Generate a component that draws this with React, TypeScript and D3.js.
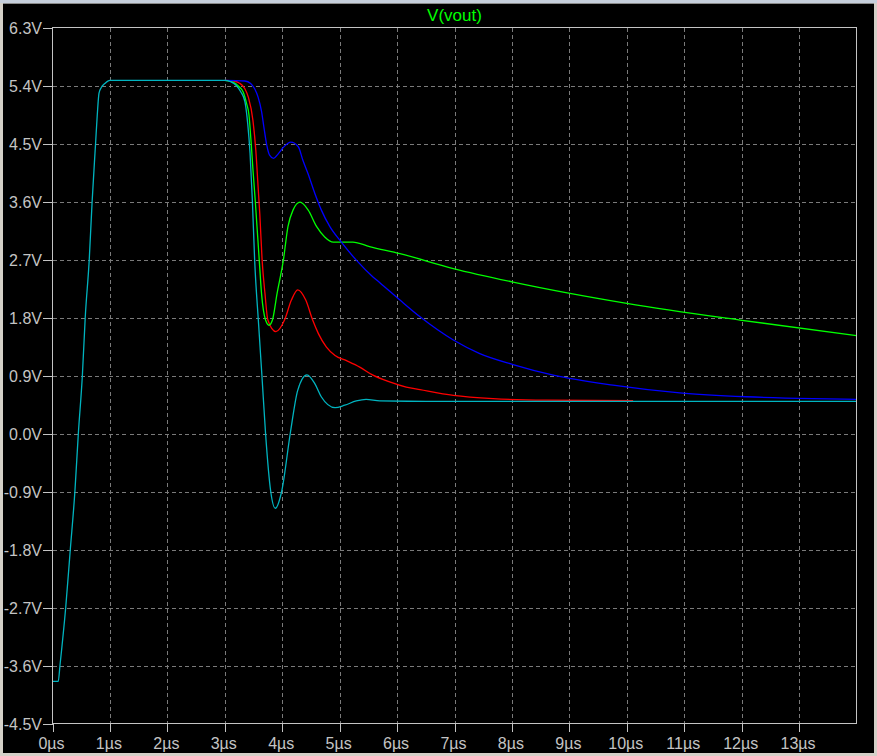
import React from "react";
import * as d3 from "d3";

// ---- data (time in µs, voltage in V) ----
const X_TICKS = [0, 1, 2, 3, 4, 5, 6, 7, 8, 9, 10, 11, 12, 13];
const X_LABELS = ["0µs", "1µs", "2µs", "3µs", "4µs", "5µs", "6µs", "7µs", "8µs", "9µs", "10µs", "11µs", "12µs", "13µs"];
const Y_TICKS = [6.3, 5.4, 4.5, 3.6, 2.7, 1.8, 0.9, 0.0, -0.9, -1.8, -2.7, -3.6, -4.5];
const Y_LABELS = ["6.3V", "5.4V", "4.5V", "3.6V", "2.7V", "1.8V", "0.9V", "0.0V", "-0.9V", "-1.8V", "-2.7V", "-3.6V", "-4.5V"];
const TITLE = "V(vout)";

const T_CYAN = [0, 0.1, 0.13, 0.23, 0.31, 0.39, 0.45, 0.52, 0.57, 0.64, 0.69, 0.75, 0.78, 0.81, 0.85, 0.91, 1.0, 2.0, 3.0, 3.1, 3.2, 3.28, 3.35, 3.4, 3.44, 3.48, 3.52, 3.59, 3.65, 3.71, 3.8, 3.88, 3.99, 4.14, 4.27, 4.43, 4.57, 4.68, 4.92, 5.09, 5.29, 5.46, 5.7, 6.5, 14];
const V_CYAN = [-3.845, -3.845, -3.6, -2.7, -1.8, -0.9, 0, 0.9, 1.8, 2.7, 3.6, 4.5, 4.95, 5.28, 5.37, 5.43, 5.48, 5.48, 5.48, 5.46, 5.4, 5.3, 5.15, 4.8, 4.35, 3.62, 2.69, 1.68, 0.85, 0, -0.9, -1.16, -0.9, 0, 0.67, 0.91, 0.77, 0.57, 0.4, 0.44, 0.505, 0.53, 0.505, 0.5, 0.5];

const T_RED = [3.0, 3.15, 3.25, 3.35, 3.41, 3.49, 3.54, 3.58, 3.61, 3.65, 3.7, 3.75, 3.89, 4.04, 4.16, 4.27, 4.41, 4.53, 4.63, 4.77, 4.92, 5.12, 5.35, 5.58, 5.87, 6.16, 6.4, 6.98, 7.67, 8.6, 10.11];
const V_RED = [5.48, 5.47, 5.44, 5.35, 5.22, 4.86, 4.4, 3.83, 3.4, 2.69, 2.17, 1.76, 1.58, 1.76, 2.07, 2.23, 2.07, 1.76, 1.55, 1.34, 1.21, 1.13, 1.03, 0.905, 0.8, 0.72, 0.68, 0.59, 0.54, 0.517, 0.51];

const T_GREEN = [3.0, 3.15, 3.25, 3.32, 3.38, 3.42, 3.46, 3.49, 3.53, 3.6, 3.64, 3.71, 3.77, 3.83, 3.91, 4.02, 4.1, 4.19, 4.31, 4.45, 4.6, 4.74, 4.89, 5.05, 5.23, 5.52, 6.05, 6.98, 8.02, 10.0, 11.97, 14];
const V_GREEN = [5.48, 5.45, 5.38, 5.3, 5.12, 4.95, 4.5, 4.1, 3.62, 2.69, 2.17, 1.76, 1.68, 1.76, 2.17, 2.69, 3.21, 3.47, 3.59, 3.47, 3.21, 3.05, 2.97, 2.97, 2.97, 2.9, 2.79, 2.56, 2.35, 2.02, 1.76, 1.52];

const T_BLUE = [3.0, 3.35, 3.45, 3.52, 3.58, 3.64, 3.68, 3.73, 3.78, 3.85, 3.93, 4.02, 4.15, 4.28, 4.36, 4.45, 4.57, 4.68, 4.83, 5.03, 5.29, 5.58, 5.7, 6.05, 6.4, 6.98, 7.44, 8.02, 8.72, 9.76, 10.92, 12.08, 13.24, 14];
const V_BLUE = [5.48, 5.47, 5.43, 5.35, 5.22, 5.0, 4.76, 4.48, 4.32, 4.27, 4.34, 4.44, 4.52, 4.45, 4.24, 4.03, 3.72, 3.47, 3.21, 2.97, 2.69, 2.43, 2.34, 2.07, 1.81, 1.45, 1.24, 1.07, 0.905, 0.75, 0.63, 0.57, 0.54, 0.53];

const SERIES = [
  { name: "red", t: T_RED, v: V_RED, color: "#ff0000" },
  { name: "green", t: T_GREEN, v: V_GREEN, color: "#00ff00" },
  { name: "blue", t: T_BLUE, v: V_BLUE, color: "#0000ff" },
  { name: "cyan", t: T_CYAN, v: V_CYAN, color: "#00b4c0" },
];

const W = 877;
const H = 756;
const PL = 52.5, PR = 856.5, PT = 27.5, PB = 723.5;
const FONT = "'Liberation Sans', Arial, sans-serif";
const AXIS = "#c4c4c4";

export default function App() {
  const x = d3.scaleLinear().domain([0, 14]).range([PL, PR]);
  const y = d3.scaleLinear().domain([-4.5, 6.3]).range([PB, PT]);
  const line = d3
    .line<[number, number]>()
    .x((d) => x(d[0]))
    .y((d) => y(d[1]))
    .curve(d3.curveMonotoneX);

  return (
    <svg
      width={W}
      height={H}
      style={{ position: "absolute", left: 0, top: 0, display: "block" }}
    >
      <rect x={0} y={0} width={W} height={H} fill="#d4d0c8" />
      <rect x={0} y={0} width={W} height={3} fill="#c6cfdc" />
      <rect x={3} y={3} width={W - 6} height={1} fill="#8a8a8a" />
      <rect x={3} y={4} width={W - 6} height={H - 7} fill="#000000" />

      {/* grid */}
      {X_TICKS.filter((t) => t > 0).map((t) => (
        <line
          key={"gx" + t}
          x1={Math.round(x(t)) + 0.5}
          x2={Math.round(x(t)) + 0.5}
          y1={PT}
          y2={PB}
          stroke="#7a7a7a"
          strokeDasharray="4,3"
          shapeRendering="crispEdges"
        />
      ))}
      {Y_TICKS.filter((v) => v < 6.3 && v > -4.5).map((v) => (
        <line
          key={"gy" + v}
          x1={PL}
          x2={PR}
          y1={Math.round(y(v)) + 0.5}
          y2={Math.round(y(v)) + 0.5}
          stroke="#7a7a7a"
          strokeDasharray="4,3"
          shapeRendering="crispEdges"
        />
      ))}

      {/* traces */}
      {SERIES.map((s) => (
        <path
          key={s.name}
          d={line(s.t.map((t, i) => [t, s.v[i]] as [number, number])) || ""}
          fill="none"
          stroke={s.color}
          strokeWidth={1.3}
        />
      ))}

      {/* frame */}
      <rect
        x={PL}
        y={PT}
        width={PR - PL}
        height={PB - PT}
        fill="none"
        stroke={AXIS}
        shapeRendering="crispEdges"
      />

      {/* y ticks */}
      {Y_TICKS.map((v, i) => (
        <g key={"yt" + i}>
          <line
            x1={43}
            x2={PL}
            y1={Math.round(y(v)) + 0.5}
            y2={Math.round(y(v)) + 0.5}
            stroke={AXIS}
            shapeRendering="crispEdges"
          />
          <text
            x={42}
            y={y(v) + 6}
            textAnchor="end"
            fontFamily={FONT}
            fontSize={16}
            fill={AXIS}
          >
            {Y_LABELS[i]}
          </text>
        </g>
      ))}

      {/* x ticks */}
      {X_TICKS.map((t, i) => (
        <g key={"xt" + i}>
          <line
            x1={Math.round(x(t)) + 0.5}
            x2={Math.round(x(t)) + 0.5}
            y1={PB}
            y2={732}
            stroke={AXIS}
            shapeRendering="crispEdges"
          />
          <text
            x={x(t) - 1}
            y={749}
            textAnchor="middle"
            fontFamily={FONT}
            fontSize={16}
            fill={AXIS}
          >
            {X_LABELS[i]}
          </text>
        </g>
      ))}

      <text
        x={(PL + PR) / 2}
        y={21}
        textAnchor="middle"
        fontFamily={FONT}
        fontSize={17}
        fill="#00ff00"
      >
        {TITLE}
      </text>
    </svg>
  );
}
